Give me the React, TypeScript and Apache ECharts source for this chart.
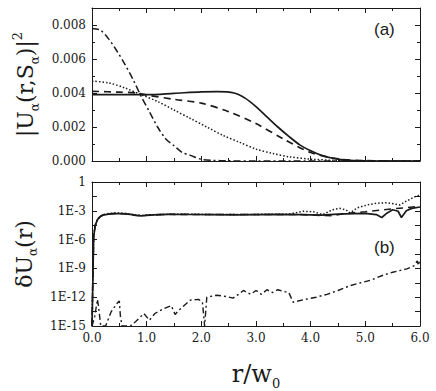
import React, { useEffect, useRef } from "react";
import * as echarts from "echarts";

// ---- Panel (a): |U(r,S)|^2 ----
const solidA: [number, number][] = [
  [0, 0.0039], [0.5, 0.0039], [1.0, 0.0039], [1.5, 0.00398], [2.0, 0.00407], [2.3, 0.00408],
  [2.6, 0.004], [2.8, 0.0037], [3.0, 0.0032], [3.2, 0.0026], [3.4, 0.002], [3.6, 0.00145],
  [3.8, 0.00095], [4.0, 0.0006], [4.2, 0.00033], [4.4, 0.00016], [4.6, 0.00007], [4.8, 0.00002],
  [5.0, 0.000005], [5.5, 0], [6.0, 0],
];
const dashedA: [number, number][] = [
  [0, 0.0041], [0.5, 0.00405], [0.8, 0.004], [1.0, 0.00388], [1.5, 0.00363], [2.0, 0.0034],
  [2.5, 0.0029], [3.0, 0.0022], [3.5, 0.0013], [4.0, 0.0005], [4.5, 0.00012], [5.0, 0.00002],
  [5.5, 0], [6.0, 0],
];
const dottedA: [number, number][] = [
  [0, 0.0047], [0.3, 0.0046], [0.6, 0.0043], [0.9, 0.0039], [1.2, 0.0035], [1.5, 0.003],
  [1.8, 0.0025], [2.1, 0.002], [2.4, 0.0015], [2.7, 0.0011], [3.0, 0.0007], [3.3, 0.00045],
  [3.6, 0.00025], [4.0, 0.00011], [4.5, 0.00003], [5.0, 0.00001], [6.0, 0],
];
const dashDotA: [number, number][] = [
  [0, 0.0078], [0.15, 0.0077], [0.3, 0.0072], [0.45, 0.0065], [0.6, 0.0057], [0.75, 0.0048],
  [0.9, 0.0038], [1.05, 0.0029], [1.2, 0.002], [1.35, 0.0013], [1.5, 0.0009], [1.65, 0.0005],
  [1.8, 0.00033], [2.0, 0.0001], [2.2, 0.00004], [2.5, 0.00001], [3.0, 0], [6.0, 0],
];

// ---- Panel (b): deltaU(r) (log) ----
const solidB: [number, number][] = [
  [0.0, 1e-15], [0.03, 2e-6], [0.06, 3e-5], [0.1, 1.2e-4], [0.15, 2.5e-4], [0.2, 3.5e-4],
  [0.3, 4.5e-4], [0.4, 5e-4], [0.5, 5e-4], [0.6, 4.8e-4], [0.7, 4.2e-4], [0.8, 3.4e-4],
  [0.9, 3e-4], [1.0, 3.3e-4], [1.2, 4e-4], [1.4, 4.2e-4], [1.8, 4.1e-4], [2.2, 4e-4],
  [2.6, 3.7e-4], [3.0, 4e-4], [3.4, 4.2e-4], [3.8, 4e-4], [4.2, 3.5e-4], [4.5, 4.5e-4],
  [4.8, 5e-4], [5.0, 5.5e-4], [5.2, 4e-4], [5.3, 2e-4], [5.4, 6e-4], [5.5, 1.3e-3],
  [5.6, 9e-4], [5.66, 2e-4], [5.75, 1e-3], [5.85, 1.8e-3], [6.0, 2.5e-3],
];
const dashedB: [number, number][] = [
  [0.0, 1e-15], [0.03, 2e-6], [0.06, 3e-5], [0.1, 1.2e-4], [0.15, 2.5e-4], [0.2, 3.6e-4],
  [0.3, 4.6e-4], [0.4, 5.1e-4], [0.5, 5.1e-4], [0.6, 4.9e-4], [0.7, 4.3e-4], [0.8, 3.5e-4],
  [0.9, 3.1e-4], [1.0, 3.4e-4], [1.4, 4.3e-4], [2.2, 4.1e-4], [3.0, 4.1e-4], [3.8, 4.1e-4],
  [4.2, 3.3e-4], [4.4, 3e-4], [4.6, 5e-4], [5.0, 8e-4], [5.3, 1.2e-3], [5.5, 1.6e-3],
  [5.7, 2e-3], [6.0, 3e-3],
];
const dottedB: [number, number][] = [
  [0.0, 1e-15], [0.03, 2.5e-6], [0.06, 3.5e-5], [0.1, 1.4e-4], [0.15, 2.8e-4], [0.2, 4e-4],
  [0.3, 5.2e-4], [0.4, 5.8e-4], [0.5, 5.8e-4], [0.6, 5.4e-4], [0.7, 4.6e-4], [0.8, 3.7e-4],
  [0.9, 3.3e-4], [1.0, 3.5e-4], [1.4, 4.4e-4], [2.2, 4.2e-4], [3.0, 4.2e-4], [3.6, 4.5e-4],
  [3.86, 9e-4], [4.05, 8e-4], [4.22, 4e-4], [4.4, 1.3e-3], [4.54, 1.8e-3], [4.65, 1.2e-3],
  [4.72, 6e-4], [4.85, 2e-3], [5.03, 4e-3], [5.2, 6e-3], [5.39, 7e-3], [5.55, 5e-3],
  [5.63, 4e-3], [5.75, 1e-2], [5.94, 3.7e-2], [6.0, 4e-2],
];
const dashDotB: [number, number][] = [
  [0.0, 1e-15], [0.05, 1e-14], [0.1, 6e-13], [0.12, 1e-13], [0.16, 1e-15], [0.25, 1e-15],
  [0.35, 3e-14], [0.45, 2e-13], [0.5, 4e-13], [0.52, 1e-14], [0.55, 1e-15], [0.7, 1e-15],
  [0.8, 3e-15], [0.95, 2e-14], [1.05, 4e-15], [1.15, 2e-14], [1.3, 6e-14], [1.45, 1.3e-13],
  [1.52, 1.6e-14], [1.6, 5e-14], [1.8, 5e-13], [1.95, 6e-13], [2.02, 3e-13], [2.06, 1e-15],
  [2.1, 1e-12], [2.28, 1.6e-12], [2.45, 1.2e-12], [2.58, 8e-13], [2.68, 2e-12], [2.77, 5e-12],
  [2.9, 2e-12], [3.0, 5e-12], [3.1, 2e-12], [3.2, 6e-12], [3.3, 3e-12], [3.4, 6e-12],
  [3.5, 4e-12], [3.6, 3e-12], [3.68, 3e-13], [3.9, 6e-13], [4.1, 1e-12], [4.3, 2e-12],
  [4.5, 5e-12], [4.72, 1.6e-11], [4.9, 3e-11], [5.1, 6e-11], [5.33, 2e-10], [5.5, 4e-10],
  [5.76, 9e-10], [5.9, 2e-9], [5.95, 6e-9], [5.97, 2e-9], [6.0, 8e-9],
];

const X_MIN = 0;
const X_MAX = 6;
const YA_MAX = 0.009;
const YB_MIN = 1e-15;
const YB_MAX = 1;

const SERIF = "'DejaVu Serif', serif";
const INK = "#1a1a1a";

export default function App() {
  const ref = useRef<HTMLDivElement>(null);
  useEffect(() => {
    const chart = echarts.init(ref.current!, null, { renderer: "svg" });
    const axisLine = { show: true, onZero: false, lineStyle: { color: INK, width: 1 } };
    const tick = { show: true, inside: true, length: 5, lineStyle: { color: INK, width: 1 } };
    const minor = { show: true, splitNumber: 2, length: 3, lineStyle: { color: INK, width: 1 } };
    const label = { fontFamily: SERIF, fontSize: 12, color: INK };
    const xBase = (grid: number, pos: string, showLabel: boolean) => ({
      type: "value", gridIndex: grid, position: pos, min: X_MIN, max: X_MAX, interval: 1,
      axisLine, axisTick: tick, minorTick: minor, splitLine: { show: false },
      axisLabel: { show: showLabel, ...label, margin: 6, formatter: (v: number) => v.toFixed(1) },
    });
    const yA = (pos: string, showLabel: boolean) => ({
      type: "value", gridIndex: 0, position: pos, min: 0, max: YA_MAX, interval: 0.002,
      axisLine, axisTick: tick, minorTick: minor, splitLine: { show: false },
      axisLabel: {
        show: showLabel, ...label, margin: 6,
        formatter: (v: number) => (v <= 0.0081 ? v.toFixed(3) : ""),
      },
    });
    const yB = (pos: string, showLabel: boolean) => ({
      type: "log", logBase: Math.pow(10, 1.5), gridIndex: 1, position: pos, min: YB_MIN, max: YB_MAX,
      interval: 1, splitNumber: 10,
      axisLine, axisTick: tick, splitLine: { show: false },
      axisLabel: {
        show: showLabel, ...label, margin: 6,
        formatter: (v: number) => {
          const e = Math.log10(v);
          const k = Math.round(e / 3);
          if (Math.abs(e / 3 - k) > 0.02) return "";
          const n = k * 3;
          return n === 0 ? "1" : "1E" + n;
        },
      },
    });
    const nameRich = {
      m: { fontFamily: SERIF, fontSize: 22, color: INK, lineHeight: 30, verticalAlign: "middle" },
      s: { fontFamily: SERIF, fontSize: 12, color: INK, lineHeight: 12, verticalAlign: "bottom" },
      p: { fontFamily: SERIF, fontSize: 13, color: INK, lineHeight: 13, verticalAlign: "top" },
    };
    const xRich = {
      m: { fontFamily: SERIF, fontSize: 24, color: INK, lineHeight: 32, verticalAlign: "middle" },
      s: { fontFamily: SERIF, fontSize: 13, color: INK, lineHeight: 13, verticalAlign: "bottom" },
    };
    const line = (data: [number, number][], ax: number, type: any, width: number, smooth: any) => ({
      type: "line", xAxisIndex: ax, yAxisIndex: ax, data, showSymbol: false, smooth,
      lineStyle: { color: INK, width, type, cap: "butt" }, clip: true, z: 3,
    });
    chart.setOption({
      animation: false,
      backgroundColor: "#ffffff",
      grid: [
        { left: 92, right: 16, top: 8, height: 153 },
        { left: 92, right: 16, top: 182, height: 154 },
      ],
      xAxis: [
        xBase(0, "bottom", false),
        xBase(0, "top", false),
        {
          ...xBase(1, "bottom", true),
          name: "{m|r/w}{s|0}", nameLocation: "middle", nameGap: 32,
          nameTextStyle: { rich: xRich },
        },
        xBase(1, "top", false),
      ],
      yAxis: [
        {
          ...yA("left", true),
          name: "{m||U}{s|α}{m|(r,S}{s|α}{m|)|}{p|2}", nameLocation: "middle", nameGap: 50,
          nameTextStyle: { rich: nameRich },
        },
        yA("right", false),
        {
          ...yB("left", true),
          name: "{m|δU}{s|α}{m|(r)}", nameLocation: "middle", nameGap: 50,
          nameTextStyle: { rich: nameRich },
        },
        yB("right", false),
      ],
      graphic: [
        { type: "text", left: 374, top: 21, style: { text: "(a)", font: "17px 'Liberation Sans'", fill: INK } },
        { type: "text", left: 374, top: 239, style: { text: "(b)", font: "17px 'Liberation Sans'", fill: INK } },
      ],
      series: [
        line(solidA, 0, "solid", 1.7, 0.3),
        line(dashedA, 0, [7, 5], 1.7, 0.3),
        line(dottedA, 0, [1.5, 2], 1.5, 0.3),
        line(dashDotA, 0, [7, 3, 2, 3], 1.5, 0.3),
        line(solidB, 2, "solid", 1.7, false),
        line(dashedB, 2, [7, 5], 1.6, false),
        line(dottedB, 2, [1.5, 2], 1.5, false),
        line(dashDotB, 2, [6, 3, 2, 3], 1.4, false),
      ],
    });
    return () => chart.dispose();
  }, []);
  return <div ref={ref} style={{ position: "absolute", left: 0, top: 0, width: 436, height: 391 }} />;
}
